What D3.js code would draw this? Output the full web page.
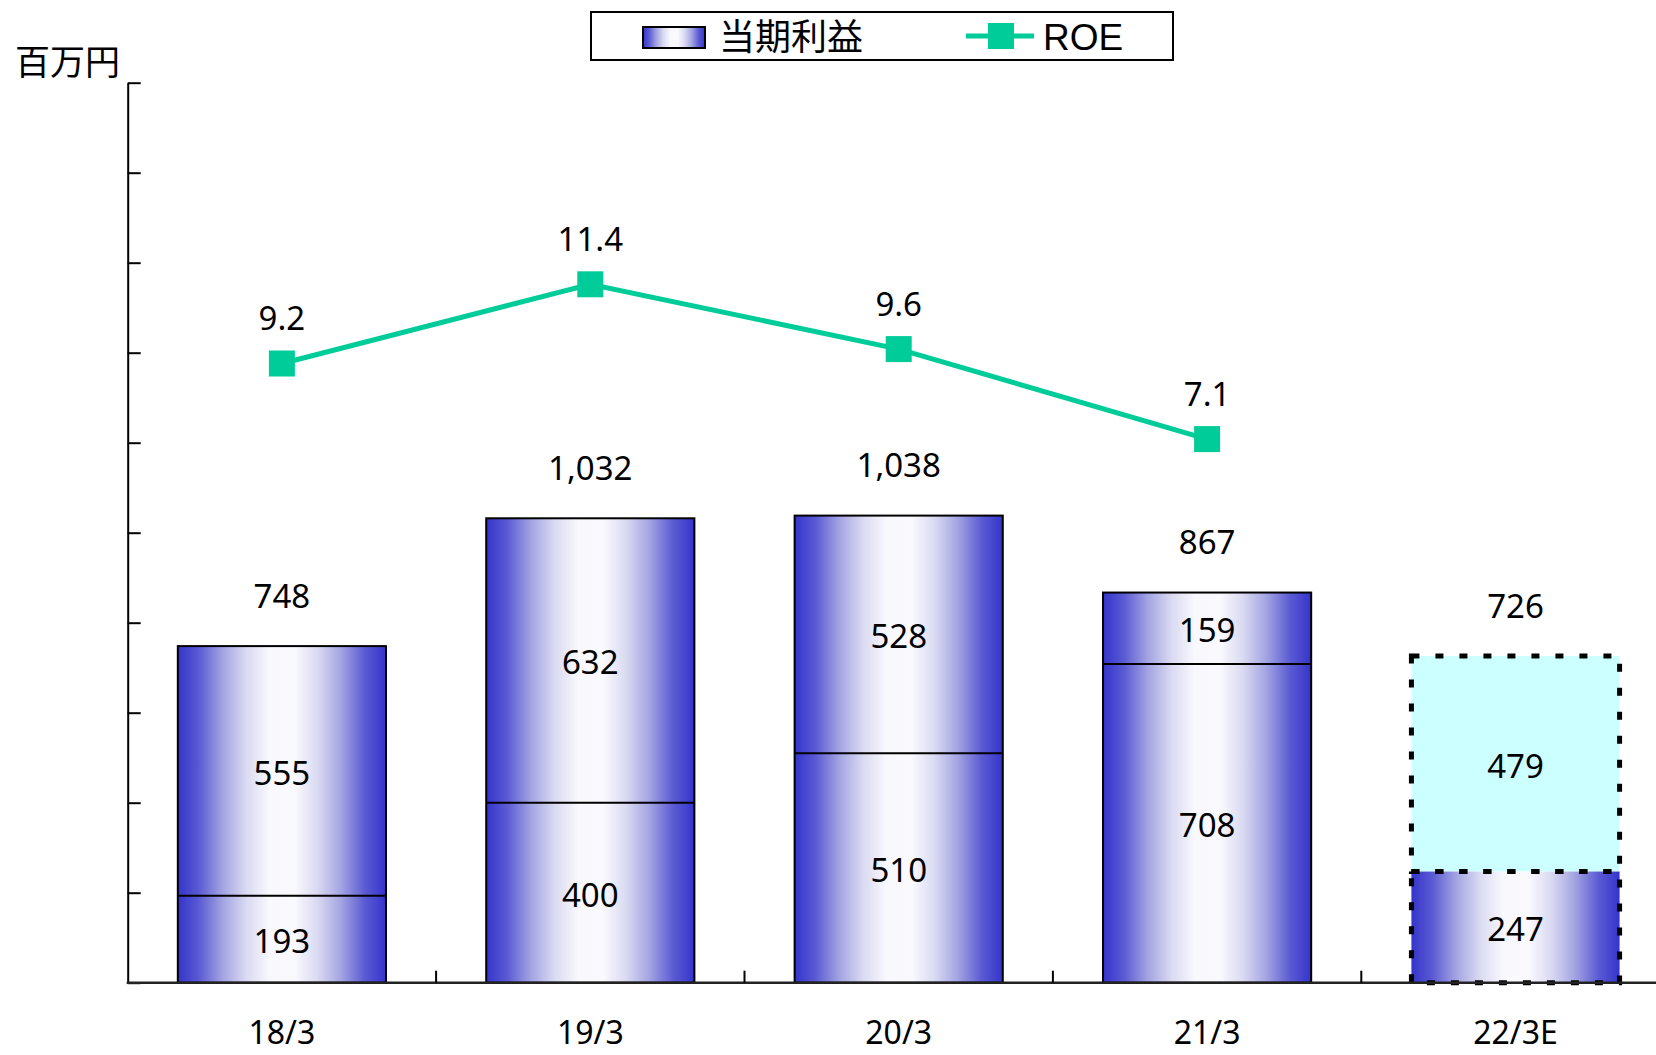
<!DOCTYPE html>
<html>
<head>
<meta charset="utf-8">
<script src="https://cdn.jsdelivr.net/npm/d3@7"></script>
<style>
html,body{margin:0;padding:0;background:#fff;overflow:hidden;}
svg{display:block;}
</style>
</head>
<body>
<div id="chart"></div>
<script>
// ---- data ----
const categories = ["18/3", "19/3", "20/3", "21/3", "22/3E"];
const lowerValues = [193, 400, 510, 708, 247];
const upperValues = [555, 632, 528, 159, 479];
const totalValues = [748, 1032, 1038, 867, 726];
const roeValues = [9.2, 11.4, 9.6, 7.1, null];
const estimateFlags = [false, false, false, false, true];
const yTickValues = [0, 200, 400, 600, 800, 1000, 1200, 1400, 1600, 1800, 2000];
const unitLabel = "百万円";
const legendLabels = ["当期利益", "ROE"];

// ---- layout ----
const W = 1656, H = 1055;
const plotLeft = 127.7, plotTop = 82.7, plotBottom = 982.7;
const jp = "'Noto Sans CJK JP', 'Noto Sans', sans-serif";
const num = "'Noto Sans', 'DejaVu Sans', sans-serif";
const roeColor = "#00cc99";

const svg = d3.select("#chart").append("svg")
  .attr("width", W).attr("height", H);

const defs = svg.append("defs");
const grad = defs.append("linearGradient").attr("id", "barGrad")
  .attr("x1", "0").attr("x2", "1").attr("y1", "0").attr("y2", "0");
[[0, "#3434cc"], [0.1, "#5a5ad3"], [0.22, "#a6a6e3"], [0.33, "#dadaf2"],
 [0.44, "#f8f8fd"], [0.56, "#fafafe"], [0.67, "#dadaf2"], [0.78, "#a6a6e3"],
 [0.9, "#5a5ad3"], [1, "#3434cc"]].forEach(([o, c]) =>
  grad.append("stop").attr("offset", o).attr("stop-color", c));

const y = d3.scaleLinear().domain([0, 2000]).range([plotBottom, plotTop]);
const yR = d3.scaleLinear().domain([-8, 17]).range([plotBottom, plotTop]);
const x = d3.scaleBand().domain(categories)
  .range([plotLeft, plotLeft + 5 * 308.4])
  .paddingInner(0.325).paddingOuter(0.1625);
const bw = x.bandwidth();
const gapHalf = (x.step() - bw) / 2;

// ---- bars ----
const rows = categories.map((c, i) => ({
  c, lo: lowerValues[i], up: upperValues[i], tot: totalValues[i],
  roe: roeValues[i], est: estimateFlags[i]
}));

const gBars = svg.append("g");
rows.forEach(d => {
  const x0 = x(d.c);
  if (!d.est) {
    gBars.append("rect")
      .attr("x", x0).attr("y", y(d.tot))
      .attr("width", bw).attr("height", y(0) - y(d.tot))
      .attr("fill", "url(#barGrad)")
      .attr("stroke", "#000").attr("stroke-width", 2);
    gBars.append("line")
      .attr("x1", x0).attr("x2", x0 + bw)
      .attr("y1", y(d.lo)).attr("y2", y(d.lo))
      .attr("stroke", "#000").attr("stroke-width", 2);
  } else {
    gBars.append("rect")
      .attr("x", x0).attr("y", y(d.tot))
      .attr("width", bw).attr("height", y(d.lo) - y(d.tot))
      .attr("fill", "#ccffff");
    gBars.append("rect")
      .attr("x", x0).attr("y", y(d.lo))
      .attr("width", bw).attr("height", y(0) - y(d.lo))
      .attr("fill", "url(#barGrad)");
    gBars.append("rect")
      .attr("x", x0).attr("y", y(d.tot))
      .attr("width", bw).attr("height", y(d.lo) - y(d.tot))
      .attr("fill", "none").attr("stroke", "#000")
      .attr("stroke-width", 5).attr("stroke-dasharray", "8,16");
    gBars.append("rect")
      .attr("x", x0).attr("y", y(d.lo))
      .attr("width", bw).attr("height", y(0) - y(d.lo))
      .attr("fill", "none").attr("stroke", "#000")
      .attr("stroke-width", 5).attr("stroke-dasharray", "8,16");
  }
});

// ---- axes ----
const yAxis = d3.axisRight(y).tickValues(yTickValues).tickSize(13)
  .tickSizeOuter(0).tickFormat("");
const gy = svg.append("g").attr("transform", `translate(${plotLeft},0)`).call(yAxis);
gy.selectAll("path,line").attr("stroke", "#000").attr("stroke-width", 2);

svg.append("line")
  .attr("x1", plotLeft - 1).attr("x2", W)
  .attr("y1", plotBottom).attr("y2", plotBottom)
  .attr("stroke", "#222").attr("stroke-width", 2.5);

categories.slice(1).forEach(c => {
  const bx = x(c) - gapHalf;
  svg.append("line")
    .attr("x1", bx).attr("x2", bx)
    .attr("y1", plotBottom).attr("y2", plotBottom - 12)
    .attr("stroke", "#000").attr("stroke-width", 2);
});

const xAxis = d3.axisBottom(x).tickSize(0).tickPadding(0);
const gx = svg.append("g").attr("transform", `translate(0,${plotBottom})`).call(xAxis);
gx.select(".domain").remove();
gx.selectAll("text")
  .attr("y", 50).attr("dy", "0.35em")
  .attr("font-family", num).attr("font-size", 32).attr("fill", "#000");

// ---- bar labels ----
const gLab = svg.append("g")
  .attr("font-family", num).attr("font-size", 33).attr("fill", "#000")
  .attr("text-anchor", "middle");
rows.forEach(d => {
  const cx = x(d.c) + bw / 2;
  gLab.append("text").attr("x", cx).attr("y", (y(0) + y(d.lo)) / 2)
    .attr("dy", "0.42em").text(d3.format(",")(d.lo));
  gLab.append("text").attr("x", cx).attr("y", (y(d.lo) + y(d.tot)) / 2)
    .attr("dy", "0.42em").text(d3.format(",")(d.up));
  gLab.append("text").attr("x", cx).attr("y", y(d.tot) - 51)
    .attr("dy", "0.38em").text(d3.format(",")(d.tot));
});

// ---- ROE line ----
const roeRows = rows.filter(d => d.roe != null);
const line = d3.line().x(d => x(d.c) + bw / 2).y(d => yR(d.roe));
svg.append("path").datum(roeRows).attr("d", line)
  .attr("fill", "none").attr("stroke", roeColor).attr("stroke-width", 5);
svg.append("g").selectAll("rect").data(roeRows).join("rect")
  .attr("x", d => x(d.c) + bw / 2 - 13).attr("y", d => yR(d.roe) - 13)
  .attr("width", 26).attr("height", 26).attr("fill", roeColor);
svg.append("g").attr("font-family", num).attr("font-size", 33)
  .attr("text-anchor", "middle").selectAll("text").data(roeRows).join("text")
  .attr("x", d => x(d.c) + bw / 2).attr("y", d => yR(d.roe) - 45)
  .attr("dy", "0.35em").text(d => d3.format(".1f")(d.roe));

// ---- unit label ----
svg.append("text").attr("x", 15).attr("y", 63).attr("dy", "0.35em")
  .attr("font-family", jp).attr("font-size", 35).attr("fill", "#000")
  .text(unitLabel);

// ---- legend ----
const lg = svg.append("g");
lg.append("rect").attr("x", 591).attr("y", 12).attr("width", 582).attr("height", 48)
  .attr("fill", "#fff").attr("stroke", "#000").attr("stroke-width", 2);
lg.append("rect").attr("x", 643).attr("y", 27).attr("width", 62).attr("height", 21)
  .attr("fill", "url(#barGrad)").attr("stroke", "#000").attr("stroke-width", 2);
lg.append("text").attr("x", 719).attr("y", 37).attr("dy", "0.35em")
  .attr("font-family", jp).attr("font-size", 36).text(legendLabels[0]);
lg.append("line").attr("x1", 966).attr("x2", 1034).attr("y1", 36).attr("y2", 36)
  .attr("stroke", roeColor).attr("stroke-width", 5);
lg.append("rect").attr("x", 988).attr("y", 23).attr("width", 26).attr("height", 26)
  .attr("fill", roeColor);
lg.append("text").attr("x", 1043).attr("y", 37).attr("dy", "0.35em")
  .attr("font-family", "'Liberation Sans', Arial, sans-serif").attr("font-size", 37)
  .text(legendLabels[1]);
</script>
</body>
</html>
